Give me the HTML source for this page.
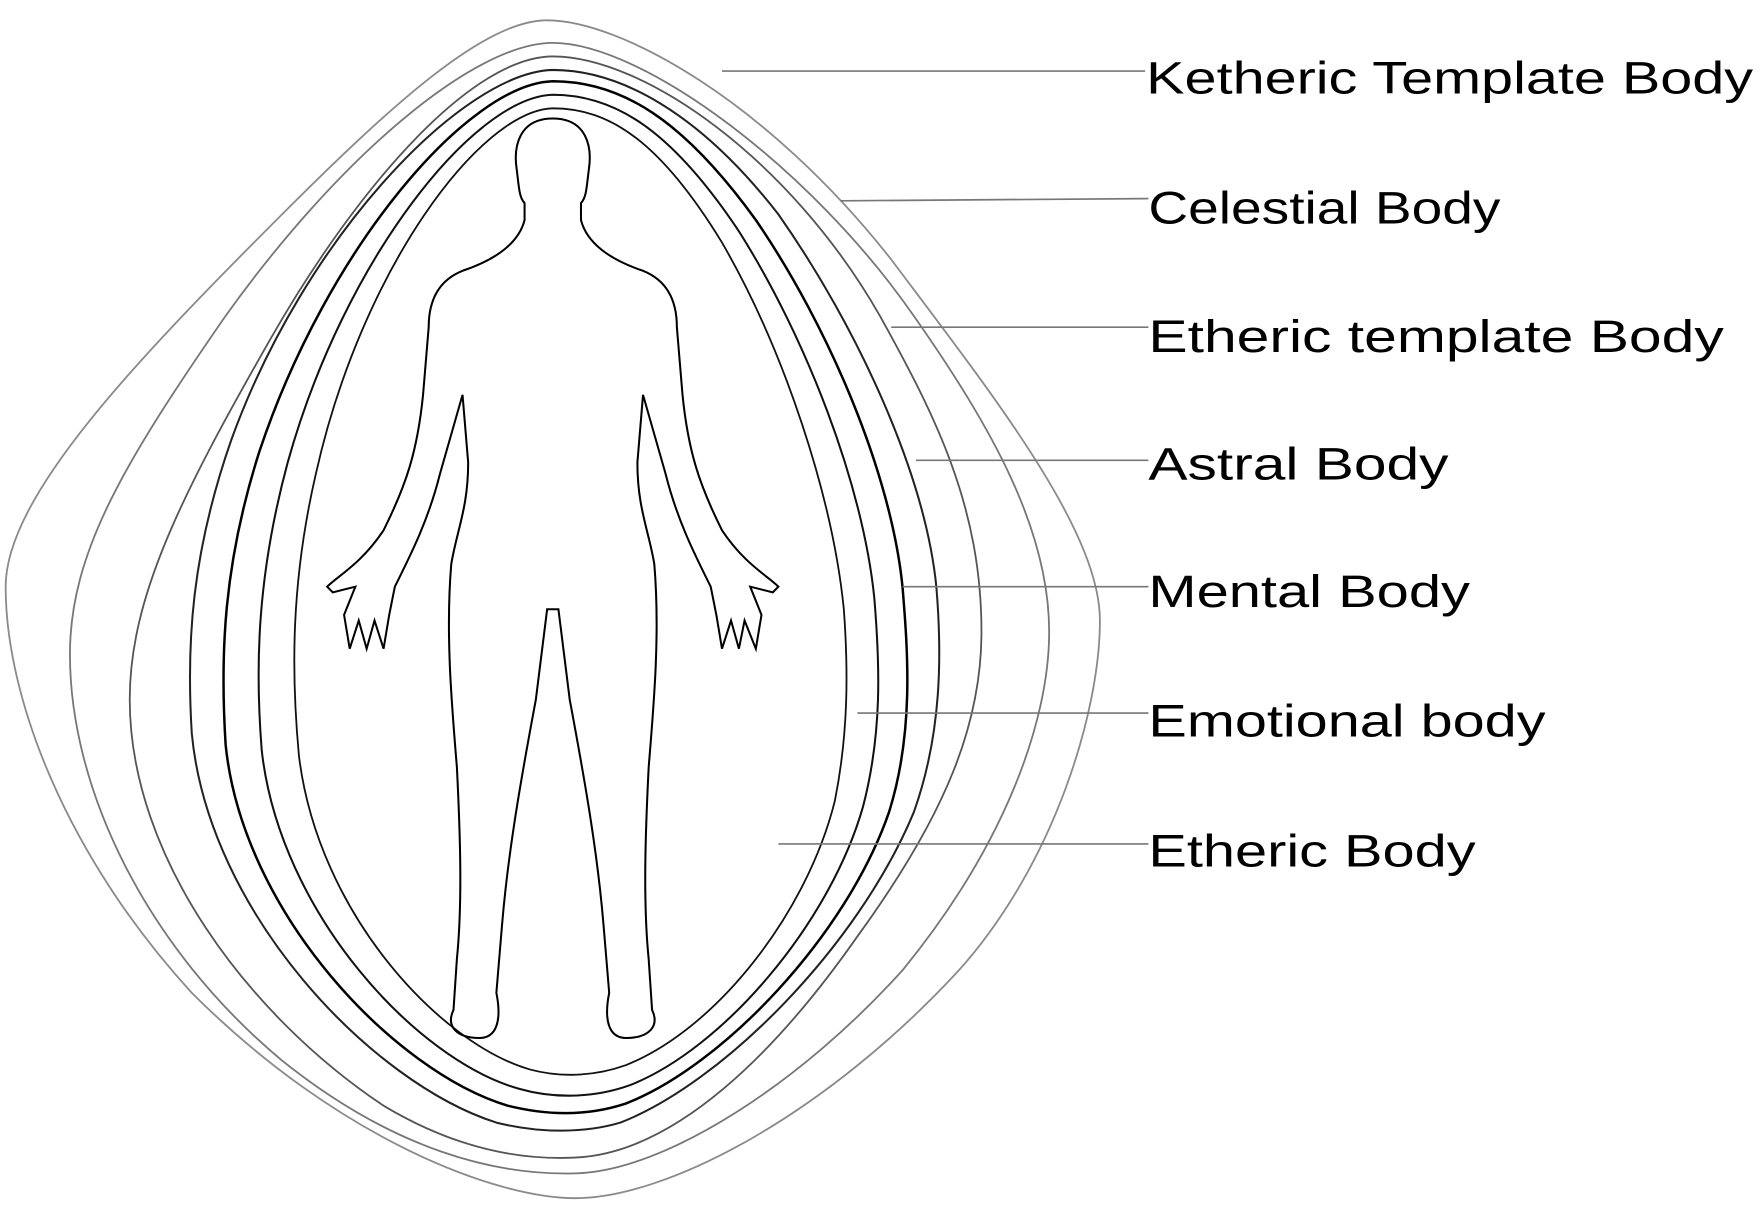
<!DOCTYPE html>
<html><head><meta charset="utf-8"><style>
html,body{margin:0;padding:0;background:#fff;}
svg{display:block;}
</style></head><body>
<svg width="1761" height="1223" viewBox="0 0 1561 1084" preserveAspectRatio="none" xmlns="http://www.w3.org/2000/svg">
<rect width="1561" height="1084" fill="#fff"/>
<g fill="none" stroke-linejoin="round">
<path d="M485,18 C430,18 350,90 250,190 C120,320 5,440 5,520 C5,620 60,760 170,880 C300,1010 440,1062 510,1062 C590,1062 730,990 850,860 C935,765 975,630 975,550 C975,470 880,350 790,230 C680,90 550,18 485,18 Z" stroke="#8a8a8a" stroke-width="1.6"/>
<path d="M490,38 C420,38 300,140 200,280 C110,410 62,490 62,580 C62,700 130,840 250,940 C350,1020 440,1042 510,1040 C590,1038 710,960 800,860 C890,750 930,640 930,560 C930,470 880,380 810,280 C720,150 570,38 490,38 Z" stroke="#777" stroke-width="1.6"/>
<path d="M490,50 C420,50 320,160 240,300 C160,440 115,530 115,620 C115,760 220,900 340,980 C410,1022 470,1028 510,1026 C600,1022 690,930 760,830 C840,720 870,640 870,560 C870,450 830,370 780,280 C700,140 570,50 490,50 Z" stroke="#555" stroke-width="1.6"/>
<path d="M490,62 C410,64 270,210 205,390 C170,490 165,570 170,650 C185,810 330,960 440,995 C480,1005 520,1004 550,995 C640,960 760,840 810,720 C835,650 835,580 830,520 C820,420 760,290 690,190 C620,100 550,62 490,62 Z" stroke="#222" stroke-width="1.8"/>
<path d="M490,72 C415,74 290,220 230,400 C198,500 195,580 200,660 C215,810 350,950 450,980 C490,990 525,988 555,978 C640,945 750,830 788,720 C810,650 805,580 800,520 C790,420 735,290 670,195 C605,105 550,72 490,72 Z" stroke="#000" stroke-width="2.2"/>
<path d="M490,84 C420,86 305,230 255,410 C228,510 226,590 232,665 C248,810 370,940 460,965 C495,975 530,972 558,962 C640,930 735,820 765,715 C782,650 780,590 775,530 C765,430 715,300 655,205 C595,115 545,84 490,84 Z" stroke="#111" stroke-width="1.8"/>
<path d="M490,96 C425,98 320,240 280,420 C258,515 258,595 265,670 C282,810 390,925 470,948 C500,956 530,953 555,944 C635,912 715,810 740,710 C752,650 752,595 748,540 C738,440 695,310 640,215 C585,125 540,96 490,96 Z" stroke="#111" stroke-width="1.6"/>
</g>
<path d="M490,105 C520,105 525,130 522,150 C520,165 520,175 515,180 L515,195 C520,215 540,230 570,240 C590,248 600,265 600,290 L605,350 C610,400 620,430 640,470 C660,500 680,510 690,520 L685,525 L665,520 L675,545 L670,575 L660,550 L655,575 L648,550 L640,575 L635,545 L630,520 C615,490 600,460 590,420 L570,350 L565,410 C565,450 575,470 580,500 C585,560 580,620 575,680 C572,740 570,800 575,850 L578,895 C585,910 575,920 555,920 C540,920 535,905 540,880 L535,820 C530,760 520,700 505,620 L495,540 L485,540 L475,620 C460,700 450,760 445,820 L440,880 C445,905 440,920 425,920 C405,920 395,910 402,895 L405,850 C410,800 408,740 405,680 C400,620 395,560 400,500 C405,470 415,450 415,410 L410,350 L390,420 C380,460 365,490 350,520 L345,545 L340,575 L332,550 L325,575 L318,550 L310,575 L305,545 L315,520 L295,525 L290,520 C300,510 320,500 340,470 C360,430 370,400 375,350 L380,290 C380,265 390,248 410,240 C440,230 460,215 465,195 L465,180 C460,175 460,165 458,150 C455,130 460,105 490,105 Z" fill="none" stroke="#000" stroke-width="1.8"/>
<g stroke="#777" stroke-width="1.5">
<line x1="640" y1="63" x2="1015" y2="63"/>
<line x1="745" y1="178" x2="1018" y2="176"/>
<line x1="790" y1="290" x2="1018" y2="290"/>
<line x1="812" y1="408" x2="1018" y2="408"/>
<line x1="800" y1="520" x2="1018" y2="520"/>
<line x1="760" y1="632" x2="1018" y2="632"/>
<line x1="690" y1="748" x2="1018" y2="748"/>
</g>
<g font-family="Liberation Sans, sans-serif" font-size="40" fill="#000">
<text x="1016" y="83" textLength="538" lengthAdjust="spacingAndGlyphs">Ketheric Template Body</text>
<text x="1018" y="198" textLength="312" lengthAdjust="spacingAndGlyphs">Celestial Body</text>
<text x="1018" y="312" textLength="510" lengthAdjust="spacingAndGlyphs">Etheric template Body</text>
<text x="1018" y="425" textLength="266" lengthAdjust="spacingAndGlyphs">Astral Body</text>
<text x="1018" y="538" textLength="285" lengthAdjust="spacingAndGlyphs">Mental Body</text>
<text x="1018" y="653" textLength="352" lengthAdjust="spacingAndGlyphs">Emotional body</text>
<text x="1018" y="768" textLength="290" lengthAdjust="spacingAndGlyphs">Etheric Body</text>
</g>
</svg>
</body></html>
